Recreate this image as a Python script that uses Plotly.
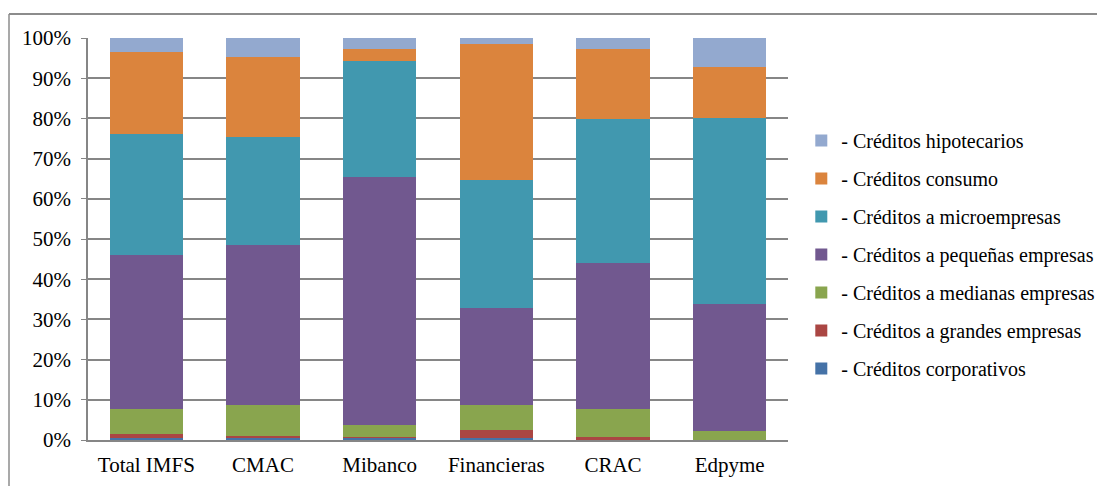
import plotly.graph_objects as go

categories = ["Total IMFS", "CMAC", "Mibanco", "Financieras", "CRAC", "Edpyme"]

# Share of each credit type per institution group (%), bottom to top of the stack
corporativos = [0.5, 0.5, 0.6, 0.6, 0.1, 0.0]
grandes = [0.9, 0.4, 0.1, 1.9, 0.6, 0.05]
medianas = [6.3, 7.8, 3.0, 6.2, 7.0, 2.2]
pequenas = [38.3, 39.8, 61.7, 24.1, 36.3, 31.6]
micro = [30.2, 26.9, 28.9, 31.9, 35.8, 46.3]
consumo = [20.3, 19.9, 2.9, 33.8, 17.5, 12.7]
hipotecarios = [3.5, 4.7, 2.8, 1.5, 2.7, 7.2]

series = [
    ("- Créditos corporativos", corporativos, "#4572A7"),
    ("- Créditos a grandes empresas", grandes, "#AA4643"),
    ("- Créditos a medianas empresas", medianas, "#89A54E"),
    ("- Créditos a pequeñas empresas", pequenas, "#71588F"),
    ("- Créditos a microempresas", micro, "#4198AF"),
    ("- Créditos consumo", consumo, "#DB843D"),
    ("- Créditos hipotecarios", hipotecarios, "#93A9CF"),
]

fig = go.Figure()
for i, (name, vals, color) in enumerate(series):
    fig.add_trace(go.Bar(
        x=categories, y=vals, name=name, legendgroup=f"g{i}",
        legendrank=100 - i,
        marker=dict(color=color, line=dict(width=0)),
    ))

FONT = '"Liberation Serif", "Times New Roman", Tinos, "DejaVu Serif", serif'
W, H = 1097, 486
L, R, T, B = 88, 309, 38, 46
pw, ph = W - L - R, H - T - B

fig.update_layout(
    width=W, height=H,
    barmode="stack", bargap=0.37,
    margin=dict(l=L, r=R, t=T, b=B, autoexpand=False),
    paper_bgcolor="white", plot_bgcolor="white",
    font=dict(family=FONT, size=20, color="black"),
    showlegend=True,
    legend=dict(
        traceorder="grouped", tracegroupgap=9,
        x=1.019, xanchor="left", y=0.4615, yanchor="middle",
        font=dict(family=FONT, size=20, color="black"),
        itemwidth=30,
    ),
    xaxis=dict(
        showline=True, linecolor="#868686", linewidth=2,
        ticks="", showgrid=False, tickfont=dict(family=FONT, size=21),
        ticklabelstandoff=5,
    ),
    yaxis=dict(
        range=[0, 100], dtick=10, ticksuffix="%",
        showline=True, linecolor="#868686", linewidth=1.5,
        showgrid=True, gridcolor="#868686", gridwidth=1.5,
        ticks="outside", ticklen=5, tickcolor="#868686",
        tickfont=dict(family=FONT, size=21), zeroline=False,
        ticklabelstandoff=6,
    ),
)

# Outer chart frame (top and left edges)
fx0 = (9 - L) / pw
fy1 = (H - B - 14) / ph
fig.add_shape(type="line", xref="paper", yref="paper",
              x0=fx0, x1=(W - L + 5) / pw, y0=fy1, y1=fy1,
              line=dict(color="#8c8c8c", width=2))
fig.add_shape(type="line", xref="paper", yref="paper",
              x0=fx0, x1=fx0, y0=fy1, y1=-(B + 5) / ph,
              line=dict(color="#8c8c8c", width=1.5))

fig.write_html("out.html")
